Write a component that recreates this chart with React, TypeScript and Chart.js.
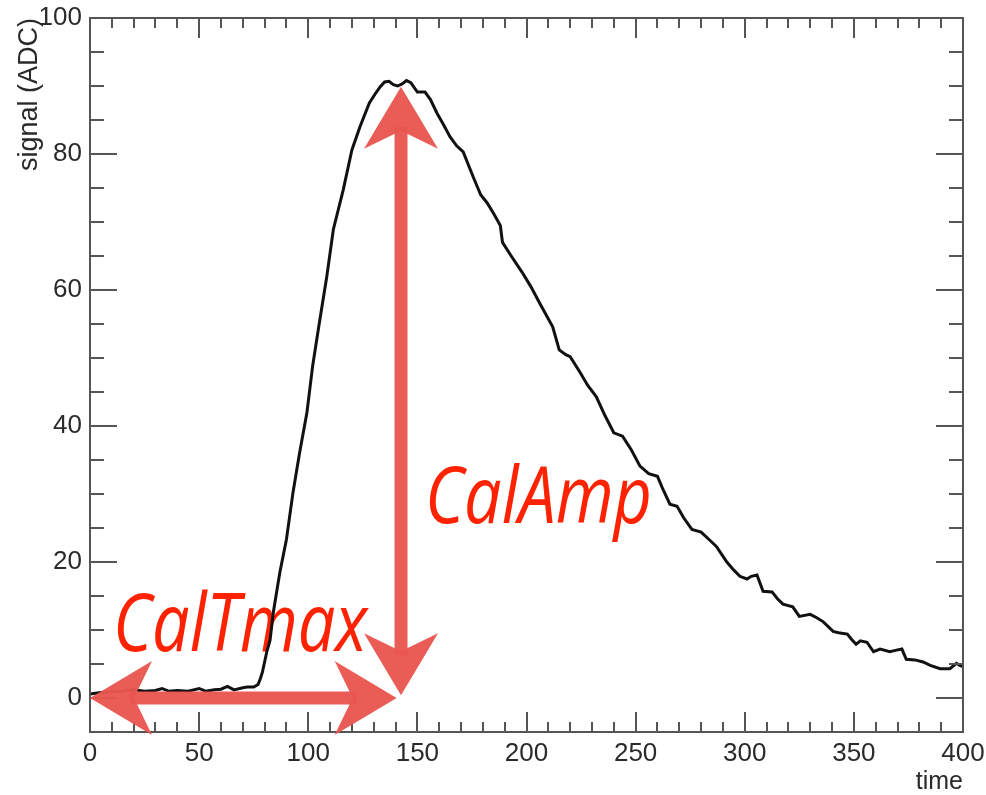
import React, { useEffect, useRef } from 'react';
import { Chart, registerables } from 'chart.js';

Chart.register(...registerables);

// ---- data ----
const TIME = [
  0, 5, 10, 15, 20, 25, 30, 33, 36, 40, 45, 50, 53, 57, 60, 63, 66, 70, 72, 75,
  77, 78, 79, 81, 82.5, 84, 87, 90, 93, 96, 99.4, 102, 105, 108.5, 111.5, 116, 120, 123.7, 128, 131,
  133, 135, 137, 139, 141, 143, 145, 147, 150, 153.5, 156, 159, 162, 165, 168, 171, 175.5, 179, 182, 185,
  188, 189, 193, 198, 202, 206, 212, 215, 218, 220, 224.5, 228, 232, 236, 240, 244, 248, 252, 256, 260,
  262.5, 265.7, 269, 272, 275.8, 280, 284, 287, 291.8, 295, 297.8, 301, 303, 305.6, 308.4, 312.5, 315, 317.5, 322, 325,
  330, 333, 336, 340.5, 343, 347, 349, 351, 353, 356, 359, 362, 366.5, 369, 372, 374, 378, 381.7, 385, 389.5,
  394, 397, 398.5, 400,
];
const SIGNAL = [
  0.6, 0.8, 0.9, 1.0, 1.2, 1.0, 1.1, 1.4, 1.0, 1.1, 1.0, 1.4, 1.0, 1.2, 1.3, 1.7, 1.2, 1.5, 1.6, 1.6,
  2.0, 2.8, 3.8, 6.8, 8.5, 12.6, 18.5, 23.3, 30.2, 36, 42, 48.8, 55, 62, 68.9, 74.7, 80.6, 84, 87.5, 89,
  89.9, 90.6, 90.7, 90.2, 90, 90.3, 90.8, 90.5, 89.1, 89.1, 88, 86, 84.3, 82.5, 81.2, 80.3, 76.7, 74, 72.8, 71.2,
  69.5, 67, 65, 62.6, 60.5, 58.1, 54.6, 51.2, 50.5, 50.2, 47.9, 46, 44.3, 41.5, 39, 38.5, 36.5, 34.1, 33, 32.6,
  30.7, 28.5, 28.2, 26.5, 24.8, 24.4, 23.2, 22.3, 20, 18.8, 17.9, 17.5, 17.9, 18.1, 15.7, 15.6, 14.6, 13.8, 13.4, 12,
  12.3, 11.8, 11.2, 9.8, 9.6, 9.4, 8.6, 7.9, 8.4, 8.2, 6.8, 7.2, 6.8, 7.0, 7.2, 5.7, 5.6, 5.3, 4.8, 4.3,
  4.3, 5.1, 4.8, 4.6,
];

const X_RANGE = [0, 400];
const Y_RANGE = [-5, 100];
const X_TICKS = [0, 50, 100, 150, 200, 250, 300, 350, 400];
const Y_TICKS = [0, 20, 40, 60, 80, 100];
const X_MINOR = 10;
const Y_MINOR = 5;

const X_TITLE = 'time';
const Y_TITLE = 'signal (ADC)';

// annotations (data coordinates)
const LABELS = ['CalTmax', 'CalAmp'];
const LABEL_X0 = [10.5, 153.5];
const LABEL_X1 = [127, 257.5];
const LABEL_BASE = [6.9, 25.7];
const LABEL_CAP = [8.4, 8.2];

const ARROW_TMAX = { x: [0, 140.5], y: [0, 0] };
const ARROW_AMP = { x: [142.5, 142.5], y: [0.4, 89.9] };

const AXIS_FONT = '"Liberation Sans", Arial, Helvetica, sans-serif';

function drawArrow(ctx: CanvasRenderingContext2D, x1: number, y1: number, x2: number, y2: number, color: string) {
  const len = Math.hypot(x2 - x1, y2 - y1);
  const ang = Math.atan2(y2 - y1, x2 - x1);
  const shaftW = 13;
  const L = 62;
  const W = 37;
  const notch = 44;
  ctx.save();
  ctx.translate(x1, y1);
  ctx.rotate(ang);
  ctx.fillStyle = color;
  ctx.fillRect(notch - 4, -shaftW / 2, len - 2 * notch + 8, shaftW);
  ctx.beginPath();
  ctx.moveTo(len, 0);
  ctx.lineTo(len - L, -W);
  ctx.lineTo(len - notch, 0);
  ctx.lineTo(len - L, W);
  ctx.closePath();
  ctx.fill();
  ctx.beginPath();
  ctx.moveTo(0, 0);
  ctx.lineTo(L, -W);
  ctx.lineTo(notch, 0);
  ctx.lineTo(L, W);
  ctx.closePath();
  ctx.fill();
  ctx.restore();
}

const rootPlugin = {
  id: 'rootStyle',
  beforeDatasetsDraw(chart: any) {
    const { ctx, scales } = chart;
    const x = scales.x;
    const y = scales.y;
    ctx.save();
    ctx.fillStyle = '#ff2200';
    LABELS.forEach((t, i) => {
      const xs = x.getPixelForValue(LABEL_X0[i]);
      const xe = x.getPixelForValue(LABEL_X1[i]);
      const yb = y.getPixelForValue(LABEL_BASE[i]);
      const capPx = yb - y.getPixelForValue(LABEL_BASE[i] + LABEL_CAP[i]);
      const fontPx = capPx / 0.714;
      ctx.font = `italic ${fontPx}px "Open Sans", Lato, sans-serif`;
      ctx.textBaseline = 'alphabetic';
      ctx.textAlign = 'left';
      const w = ctx.measureText(t).width;
      ctx.save();
      ctx.translate(xs, yb);
      ctx.scale((xe - xs) / w, 1);
      ctx.fillText(t, 0, 0);
      ctx.restore();
    });
    ctx.restore();
  },
  afterDatasetsDraw(chart: any) {
    const { ctx, chartArea, scales } = chart;
    const { left, right, top, bottom } = chartArea;
    const x = scales.x;
    const y = scales.y;
    ctx.save();
    ctx.strokeStyle = '#555';
    ctx.lineWidth = 2;
    ctx.strokeRect(left, top, right - left, bottom - top);
    ctx.beginPath();
    for (let v = X_RANGE[0]; v <= X_RANGE[1]; v += X_MINOR) {
      const px = Math.round(x.getPixelForValue(v));
      const major = X_TICKS.includes(v);
      const l = major ? 20 : 10;
      ctx.moveTo(px, bottom);
      ctx.lineTo(px, bottom - l);
      ctx.moveTo(px, top);
      ctx.lineTo(px, top + l);
    }
    for (let v = 0; v <= Y_RANGE[1]; v += Y_MINOR) {
      const py = Math.round(y.getPixelForValue(v));
      const major = Y_TICKS.includes(v);
      const l = major ? 27 : 14;
      ctx.moveTo(left, py);
      ctx.lineTo(left + l, py);
      ctx.moveTo(right, py);
      ctx.lineTo(right - l, py);
    }
    ctx.stroke();

    const red = 'rgba(233, 86, 80, 0.96)';
    drawArrow(
      ctx,
      x.getPixelForValue(ARROW_TMAX.x[0]), y.getPixelForValue(ARROW_TMAX.y[0]),
      x.getPixelForValue(ARROW_TMAX.x[1]), y.getPixelForValue(ARROW_TMAX.y[1]),
      red,
    );
    drawArrow(
      ctx,
      x.getPixelForValue(ARROW_AMP.x[0]), y.getPixelForValue(ARROW_AMP.y[0]),
      x.getPixelForValue(ARROW_AMP.x[1]), y.getPixelForValue(ARROW_AMP.y[1]),
      red,
    );
    ctx.restore();
  },
};

export default function App() {
  const ref = useRef<HTMLCanvasElement | null>(null);
  useEffect(() => {
    if (!ref.current) return;
    const chart = new Chart(ref.current, {
      type: 'line',
      data: {
        datasets: [
          {
            data: TIME.map((t, i) => ({ x: t, y: SIGNAL[i] })),
            borderColor: '#111',
            borderWidth: 3,
            pointRadius: 0,
            tension: 0,
            fill: false,
          },
        ],
      },
      options: {
        responsive: false,
        animation: false,
        layout: { padding: { left: 0, top: 18, right: 23, bottom: 0 } },
        plugins: { legend: { display: false }, tooltip: { enabled: false } },
        scales: {
          x: {
            type: 'linear',
            min: X_RANGE[0],
            max: X_RANGE[1],
            afterBuildTicks: (s: any) => {
              s.ticks = X_TICKS.map((v) => ({ value: v }));
            },
            afterFit: (s: any) => {
              s.height = 63;
              s.paddingLeft = 0;
              s.paddingRight = 0;
            },
            grid: { display: false, drawTicks: false },
            border: { display: false },
            ticks: {
              autoSkip: false,
              maxRotation: 0,
              padding: 6,
              color: '#2a2a2a',
              font: { family: AXIS_FONT, size: 26 },
            },
            title: {
              display: true,
              text: X_TITLE,
              align: 'end',
              color: '#2a2a2a',
              font: { family: AXIS_FONT, size: 25 },
              padding: { top: 0, bottom: -2 },
            },
          },
          y: {
            type: 'linear',
            min: Y_RANGE[0],
            max: Y_RANGE[1],
            afterBuildTicks: (s: any) => {
              s.ticks = Y_TICKS.map((v) => ({ value: v }));
            },
            afterFit: (s: any) => {
              s.width = 90;
              s.paddingTop = 0;
              s.paddingBottom = 0;
            },
            grid: { display: false, drawTicks: false },
            border: { display: false },
            ticks: {
              padding: 8,
              color: '#2a2a2a',
              font: { family: AXIS_FONT, size: 26 },
            },
            title: {
              display: true,
              text: Y_TITLE,
              align: 'end',
              color: '#2a2a2a',
              font: { family: AXIS_FONT, size: 27 },
              padding: { top: 13, bottom: 0 },
            },
          },
        },
      },
      plugins: [rootPlugin],
    } as any);
    return () => chart.destroy();
  }, []);
  return (
    <div style={{ position: 'fixed', left: 0, top: 0, width: 986, height: 795, background: '#fff' }}>
      <canvas ref={ref} width={986} height={795} style={{ display: 'block' }} />
    </div>
  );
}
